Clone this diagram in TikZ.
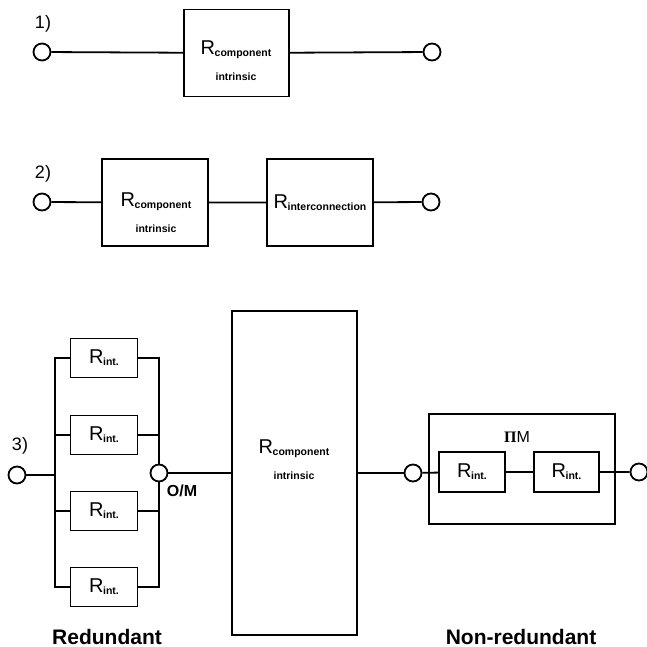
\documentclass[tikz,border=0pt]{standalone}
\usepackage{fontspec}
\setmainfont{Liberation Sans}
\newfontfamily\grfont{Liberation Serif}
\usetikzlibrary{positioning}
\newcommand{\subfnt}{\fontsize{10.5}{13}\selectfont\bfseries}
\newcommand{\Rlab}[1]{R\kern-0.5pt\raisebox{-2pt}{\subfnt #1}}

\begin{document}
\begin{tikzpicture}[
    x=1pt, y=-1pt,
    line width=1.8pt,
    blk/.style={rectangle, draw, inner sep=0pt, font=\fontsize{20}{26}\selectfont},
    bigblk/.style={blk, minimum width=106pt, minimum height=87pt},
    rint/.style={blk, minimum width=67pt, minimum height=39pt},
    term/.style={circle, draw, fill=white, minimum size=17pt, inner sep=0pt},
    txt/.style={align=center, inner sep=0pt, font=\fontsize{20}{26}\selectfont},
    tag/.style={inner sep=0pt, font=\fontsize{18}{20}\selectfont},
    caption/.style={inner sep=0pt, anchor=base, font=\fontsize{21}{24}\selectfont\bfseries}
]
    \useasboundingbox (0,0) rectangle (646,647);

    % 1) component alone
    \node[term] (t1a) at (42,52) {};
    \node[tag] (n1) at (43,24) {1)};
    \node[bigblk, minimum width=105pt] (c1) at (236.5,53) {};
    \node[txt] (c1t) at (236,61) {\Rlab{component}\\{\subfnt intrinsic}};
    \node[term] (t1b) at (432,52) {};
    \draw (t1a) -- (c1) -- (t1b);

    % 2) component and interconnection in series
    \node[term] (t2a) at (42,202) {};
    \node[tag] (n2) at (43,174) {2)};
    \node[bigblk] (c2) at (155,202.5) {};
    \node[txt] (c2t) at (156,213) {\Rlab{component}\\{\subfnt intrinsic}};
    \node[bigblk] (i2) at (320,202.5) {\Rlab{interconnection}};
    \node[term] (t2b) at (431,202) {};
    \draw (t2a) -- (c2) -- (i2) -- (t2b);

    % 3) redundant interconnections, component, non-redundant interconnections
    \node[term] (t3a) at (17,475) {};
    \node[tag] (n3) at (20,446) {3)};
    \coordinate (busL) at (55,475);
    \foreach \i/\y in {1/358, 2/435, 3/511, 4/587}
        \node[rint] (r\i) at (104,\y) {\Rlab{int.}};
    \node[term] (om) at (159,473) {};
    \node[inner sep=0pt, anchor=west, font=\fontsize{16}{18}\selectfont\bfseries] (omlbl) at (166,491) {O/M};
    \draw (t3a) -- (busL);
    \foreach \i in {1,...,4} {
        \draw (r\i.west) -| (busL);
        \draw (r\i.east) -| (om);
    }

    \node[blk, minimum width=125pt, minimum height=324pt] (c3) at (294.5,473) {};
    \node[txt] (c3t) at (294,460) {\Rlab{component}\\{\subfnt intrinsic}};
    \node[term] (t3b) at (413,473) {};
    \draw (om) -- (c3) -- (t3b);

    \node[draw, line width=1.2pt, minimum width=186pt, minimum height=110pt] (pm) at (522,469) {};
    \node[inner sep=0pt, font=\fontsize{16}{18}\selectfont] (pmlbl) at (517,437) {{\grfont\bfseries Π}M};
    \node[rint, minimum width=66pt, minimum height=40pt] (ra) at (472,472) {\Rlab{int.}};
    \node[rint, minimum width=65pt, minimum height=40pt] (rb) at (566.5,472) {\Rlab{int.}};
    \node[term] (t3c) at (639,472) {};
    \draw (t3b) -- (ra) -- (rb) -- (t3c);

    \node[caption] (red) at (107,644) {Redundant};
    \node[caption] (nonred) at (521,644) {Non-redundant};
\end{tikzpicture}
\end{document}
